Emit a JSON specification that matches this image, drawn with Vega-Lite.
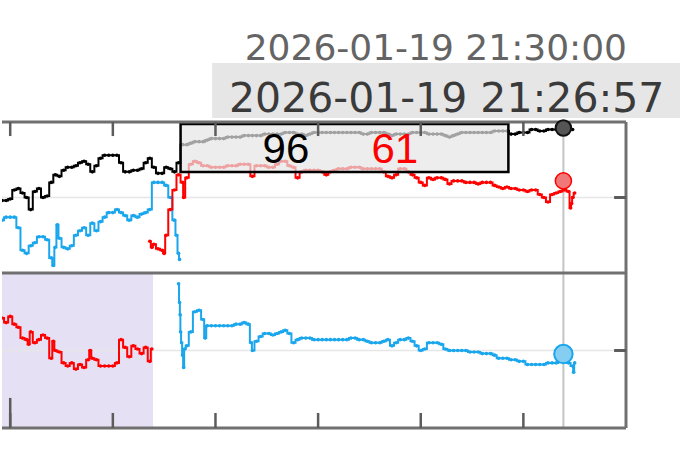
{
"$schema":"https://vega.github.io/schema/vega-lite/v6.json",
"padding":0,
"spacing":0,
"bounds":"flush",
"background":"#ffffff",
"config":{"view":{"stroke":null}},
"datasets":{
"ticks":[{"m":0},{"m":5},{"m":10},{"m":15},{"m":20},{"m":25}],
"tk":[{"m":-0.4,"v":48},{"m":-0.2,"v":48},{"m":0,"v":49},{"m":0.2,"v":55},{"m":0.4,"v":56},{"m":0.6,"v":53},{"m":0.8,"v":50},{"m":1.0,"v":42},{"m":1.2,"v":54},{"m":1.4,"v":56},{"m":1.6,"v":50},{"m":1.8,"v":51},{"m":2.0,"v":60},{"m":2.2,"v":65},{"m":2.4,"v":64},{"m":2.6,"v":68},{"m":2.8,"v":70},{"m":3.0,"v":70},{"m":3.2,"v":71},{"m":3.4,"v":73},{"m":3.6,"v":74},{"m":3.8,"v":72},{"m":4.0,"v":67},{"m":4.2,"v":71},{"m":4.4,"v":76},{"m":4.6,"v":78},{"m":4.8,"v":78},{"m":5.0,"v":78},{"m":5.2,"v":78},{"m":5.4,"v":73},{"m":5.6,"v":67},{"m":5.8,"v":67},{"m":6.0,"v":68},{"m":6.2,"v":68},{"m":6.4,"v":69},{"m":6.6,"v":73},{"m":6.8,"v":76},{"m":7.0,"v":70},{"m":7.2,"v":66},{"m":7.4,"v":66},{"m":7.6,"v":70},{"m":7.8,"v":69},{"m":8.0,"v":67},{"m":8.2,"v":73},{"m":8.4,"v":85},{"m":8.6,"v":85},{"m":8.8,"v":86},{"m":9.0,"v":87},{"m":9.2,"v":87},{"m":9.4,"v":87},{"m":9.6,"v":88},{"m":9.8,"v":89},{"m":10.0,"v":89},{"m":10.2,"v":89},{"m":10.4,"v":89},{"m":10.6,"v":90},{"m":10.8,"v":90},{"m":11.0,"v":90},{"m":11.2,"v":90},{"m":11.4,"v":91},{"m":11.6,"v":91},{"m":11.8,"v":91},{"m":12.0,"v":91},{"m":12.2,"v":91},{"m":12.4,"v":92},{"m":12.6,"v":92},{"m":12.8,"v":92},{"m":13.0,"v":92},{"m":13.2,"v":92},{"m":13.4,"v":93},{"m":13.6,"v":93},{"m":13.8,"v":93},{"m":14.0,"v":92},{"m":14.2,"v":92},{"m":14.4,"v":91},{"m":14.6,"v":92},{"m":14.8,"v":93},{"m":15.0,"v":93},{"m":15.2,"v":93},{"m":15.4,"v":93},{"m":15.6,"v":93},{"m":15.8,"v":93},{"m":16.0,"v":93},{"m":16.2,"v":93},{"m":16.4,"v":93},{"m":16.6,"v":93},{"m":16.8,"v":93},{"m":17.0,"v":93},{"m":17.2,"v":92},{"m":17.4,"v":92},{"m":17.6,"v":93},{"m":17.8,"v":93},{"m":18.0,"v":93},{"m":18.2,"v":93},{"m":18.4,"v":92},{"m":18.6,"v":91},{"m":18.8,"v":92},{"m":19.0,"v":92},{"m":19.2,"v":92},{"m":19.4,"v":92},{"m":19.6,"v":93},{"m":19.8,"v":93},{"m":20.0,"v":93},{"m":20.2,"v":93},{"m":20.4,"v":92},{"m":20.6,"v":92},{"m":20.8,"v":92},{"m":21.0,"v":92},{"m":21.2,"v":91},{"m":21.4,"v":90},{"m":21.6,"v":91},{"m":21.8,"v":92},{"m":22.0,"v":93},{"m":22.2,"v":93},{"m":22.4,"v":93},{"m":22.6,"v":93},{"m":22.8,"v":93},{"m":23.0,"v":93},{"m":23.2,"v":93},{"m":23.4,"v":93},{"m":23.6,"v":94},{"m":23.8,"v":94},{"m":24.0,"v":94},{"m":24.2,"v":94},{"m":24.4,"v":92},{"m":24.6,"v":92},{"m":24.8,"v":93},{"m":25.0,"v":93},{"m":25.2,"v":93},{"m":25.4,"v":95},{"m":25.6,"v":95},{"m":25.8,"v":94},{"m":26.0,"v":94},{"m":26.2,"v":95},{"m":26.4,"v":95},{"m":26.6,"v":95},{"m":26.8,"v":95},{"m":27.0,"v":96},{"m":27.2,"v":96},{"m":27.4,"v":95}],
"tb":[{"m":-0.4,"v":35},{"m":-0.2,"v":37},{"m":0,"v":37},{"m":0.2,"v":37},{"m":0.4,"v":30},{"m":0.6,"v":15},{"m":0.8,"v":13},{"m":1.0,"v":18},{"m":1.2,"v":20},{"m":1.4,"v":24},{"m":1.6,"v":24},{"m":1.8,"v":22},{"m":2.0,"v":10},{"m":2.1,"v":5},{"m":2.2,"v":17},{"m":2.3,"v":32},{"m":2.4,"v":23},{"m":2.6,"v":17},{"m":2.8,"v":16},{"m":3.0,"v":18},{"m":3.2,"v":25},{"m":3.4,"v":28},{"m":3.6,"v":30},{"m":3.8,"v":25},{"m":4.0,"v":33},{"m":4.2,"v":28},{"m":4.4,"v":34},{"m":4.6,"v":37},{"m":4.8,"v":40},{"m":5.0,"v":40},{"m":5.2,"v":42},{"m":5.4,"v":40},{"m":5.6,"v":38},{"m":5.8,"v":35},{"m":6.0,"v":38},{"m":6.2,"v":37},{"m":6.4,"v":39},{"m":6.6,"v":40},{"m":6.8,"v":42},{"m":7.0,"v":60},{"m":7.2,"v":60},{"m":7.4,"v":60},{"m":7.6,"v":58},{"m":7.8,"v":50},{"m":8.0,"v":35},{"m":8.1,"v":25},{"m":8.2,"v":13},{"m":8.25,"v":9}],
"tr":[{"m":6.8,"v":21},{"m":6.9,"v":17},{"m":7.0,"v":19},{"m":7.2,"v":16},{"m":7.4,"v":15},{"m":7.5,"v":13},{"m":7.6,"v":25},{"m":7.8,"v":42},{"m":8.0,"v":55},{"m":8.2,"v":65},{"m":8.4,"v":60},{"m":8.45,"v":50},{"m":8.6,"v":63},{"m":8.8,"v":72},{"m":9.0,"v":74},{"m":9.2,"v":73},{"m":9.4,"v":71},{"m":9.6,"v":71},{"m":9.8,"v":70},{"m":10.0,"v":70},{"m":10.2,"v":70},{"m":10.4,"v":70},{"m":10.6,"v":71},{"m":10.8,"v":71},{"m":11.0,"v":71},{"m":11.2,"v":72},{"m":11.4,"v":72},{"m":11.6,"v":72},{"m":11.8,"v":64},{"m":12.0,"v":71},{"m":12.2,"v":71},{"m":12.4,"v":71},{"m":12.6,"v":70},{"m":12.8,"v":70},{"m":13.0,"v":72},{"m":13.2,"v":74},{"m":13.4,"v":74},{"m":13.6,"v":71},{"m":13.8,"v":70},{"m":14.0,"v":63},{"m":14.2,"v":67},{"m":14.4,"v":68},{"m":14.6,"v":68},{"m":14.8,"v":68},{"m":15.0,"v":68},{"m":15.2,"v":67},{"m":15.4,"v":65},{"m":15.6,"v":67},{"m":15.8,"v":68},{"m":16.0,"v":69},{"m":16.2,"v":69},{"m":16.4,"v":69},{"m":16.6,"v":70},{"m":16.8,"v":70},{"m":17.0,"v":70},{"m":17.2,"v":69},{"m":17.4,"v":69},{"m":17.6,"v":69},{"m":17.8,"v":69},{"m":18.0,"v":69},{"m":18.2,"v":67},{"m":18.4,"v":64},{"m":18.6,"v":63},{"m":18.8,"v":65},{"m":19.0,"v":69},{"m":19.2,"v":69},{"m":19.4,"v":67},{"m":19.6,"v":65},{"m":19.8,"v":63},{"m":20.0,"v":60},{"m":20.2,"v":58},{"m":20.4,"v":63},{"m":20.6,"v":62},{"m":20.8,"v":63},{"m":21.0,"v":63},{"m":21.2,"v":62},{"m":21.4,"v":59},{"m":21.6,"v":61},{"m":21.8,"v":61},{"m":22.0,"v":61},{"m":22.2,"v":60},{"m":22.4,"v":60},{"m":22.6,"v":60},{"m":22.8,"v":59},{"m":23.0,"v":60},{"m":23.2,"v":60},{"m":23.4,"v":60},{"m":23.6,"v":58},{"m":23.8,"v":57},{"m":24.0,"v":56},{"m":24.2,"v":57},{"m":24.4,"v":56},{"m":24.6,"v":56},{"m":24.8,"v":55},{"m":25.0,"v":55},{"m":25.2,"v":54},{"m":25.4,"v":55},{"m":25.6,"v":55},{"m":25.8,"v":52},{"m":26.0,"v":50},{"m":26.2,"v":47},{"m":26.4,"v":52},{"m":26.6,"v":53},{"m":26.8,"v":54},{"m":27.0,"v":55},{"m":27.2,"v":54},{"m":27.3,"v":43},{"m":27.35,"v":46},{"m":27.4,"v":50},{"m":27.5,"v":53}],
"br":[{"m":-0.4,"v":71},{"m":-0.2,"v":68},{"m":0,"v":72},{"m":0.2,"v":67},{"m":0.4,"v":65},{"m":0.6,"v":58},{"m":0.8,"v":57},{"m":0.9,"v":54},{"m":1.0,"v":62},{"m":1.2,"v":55},{"m":1.4,"v":57},{"m":1.6,"v":60},{"m":1.8,"v":58},{"m":2.0,"v":45},{"m":2.1,"v":56},{"m":2.2,"v":50},{"m":2.4,"v":49},{"m":2.6,"v":42},{"m":2.8,"v":40},{"m":3.0,"v":42},{"m":3.2,"v":38},{"m":3.4,"v":41},{"m":3.6,"v":39},{"m":3.8,"v":44},{"m":3.9,"v":50},{"m":4.0,"v":45},{"m":4.2,"v":44},{"m":4.4,"v":40},{"m":4.6,"v":40},{"m":4.8,"v":40},{"m":5.0,"v":40},{"m":5.2,"v":42},{"m":5.4,"v":57},{"m":5.6,"v":52},{"m":5.8,"v":46},{"m":6.0,"v":53},{"m":6.2,"v":51},{"m":6.4,"v":48},{"m":6.6,"v":52},{"m":6.8,"v":43},{"m":6.9,"v":51}],
"bb":[{"m":8.2,"v":93},{"m":8.25,"v":81},{"m":8.28,"v":73},{"m":8.3,"v":62},{"m":8.35,"v":55},{"m":8.4,"v":47},{"m":8.45,"v":39},{"m":8.5,"v":51},{"m":8.6,"v":53},{"m":8.8,"v":62},{"m":9.0,"v":75},{"m":9.2,"v":76},{"m":9.4,"v":70},{"m":9.5,"v":58},{"m":9.6,"v":66},{"m":9.8,"v":66},{"m":10.0,"v":66},{"m":10.2,"v":66},{"m":10.4,"v":66},{"m":10.6,"v":66},{"m":10.8,"v":66},{"m":11.0,"v":67},{"m":11.2,"v":67},{"m":11.4,"v":68},{"m":11.6,"v":67},{"m":11.75,"v":55},{"m":11.8,"v":50},{"m":12.0,"v":56},{"m":12.2,"v":59},{"m":12.4,"v":61},{"m":12.6,"v":61},{"m":12.8,"v":60},{"m":13.0,"v":61},{"m":13.2,"v":62},{"m":13.4,"v":63},{"m":13.6,"v":61},{"m":13.8,"v":55},{"m":14.0,"v":57},{"m":14.2,"v":58},{"m":14.4,"v":58},{"m":14.6,"v":58},{"m":14.8,"v":57},{"m":15.0,"v":57},{"m":15.2,"v":57},{"m":15.4,"v":57},{"m":15.6,"v":57},{"m":15.8,"v":57},{"m":16.0,"v":57},{"m":16.2,"v":57},{"m":16.4,"v":57},{"m":16.6,"v":58},{"m":16.8,"v":58},{"m":17.0,"v":57},{"m":17.2,"v":57},{"m":17.4,"v":56},{"m":17.6,"v":55},{"m":17.8,"v":55},{"m":18.0,"v":55},{"m":18.2,"v":56},{"m":18.4,"v":57},{"m":18.6,"v":53},{"m":18.8,"v":55},{"m":19.0,"v":57},{"m":19.2,"v":57},{"m":19.4,"v":58},{"m":19.6,"v":56},{"m":19.8,"v":53},{"m":20.0,"v":50},{"m":20.2,"v":51},{"m":20.4,"v":55},{"m":20.6,"v":55},{"m":20.8,"v":55},{"m":21.0,"v":54},{"m":21.2,"v":51},{"m":21.4,"v":50},{"m":21.6,"v":50},{"m":21.8,"v":50},{"m":22.0,"v":50},{"m":22.2,"v":50},{"m":22.4,"v":49},{"m":22.6,"v":49},{"m":22.8,"v":49},{"m":23.0,"v":48},{"m":23.2,"v":48},{"m":23.4,"v":48},{"m":23.6,"v":47},{"m":23.8,"v":45},{"m":24.0,"v":45},{"m":24.2,"v":45},{"m":24.4,"v":44},{"m":24.6,"v":44},{"m":24.8,"v":43},{"m":25.0,"v":43},{"m":25.2,"v":41},{"m":25.4,"v":41},{"m":25.6,"v":41},{"m":25.8,"v":41},{"m":26.0,"v":41},{"m":26.2,"v":42},{"m":26.4,"v":42},{"m":26.6,"v":42},{"m":26.8,"v":43},{"m":27.0,"v":45},{"m":27.2,"v":42},{"m":27.4,"v":40},{"m":27.45,"v":36},{"m":27.5,"v":42}]
},
"vconcat":[
{"width":680,"height":122,
 "layer":[
  {"data":{"values":[{"x1":30.9,"x2":100,"y1":3.3,"y2":48.4}]},"mark":{"type":"rect","color":"#e6e6e6"},
   "encoding":{"x":{"field":"x1","type":"quantitative","scale":{"domain":[0,100],"nice":false,"zero":false},"axis":null},"x2":{"field":"x2"},"y":{"field":"y1","type":"quantitative","scale":{"domain":[0,100],"nice":false,"zero":false},"axis":null},"y2":{"field":"y2"}}},
  {"data":{"values":[{"x":63.8,"y":50.8,"t":"2026-01-19 21:30:00"}]},"mark":{"type":"text","font":"DejaVu Sans","fontSize":36,"color":"#646464","align":"center","baseline":"alphabetic"},
   "encoding":{"x":{"field":"x","type":"quantitative","scale":{"domain":[0,100],"nice":false,"zero":false},"axis":null},"y":{"field":"y","type":"quantitative","scale":{"domain":[0,100],"nice":false,"zero":false},"axis":null},"text":{"field":"t"}}},
  {"data":{"values":[{"x":65.4,"y":8.2,"t":"2026-01-19 21:26:57"}]},"mark":{"type":"text","font":"DejaVu Sans","fontSize":41,"color":"#3a3a3a","align":"center","baseline":"alphabetic"},
   "encoding":{"x":{"field":"x","type":"quantitative","scale":{"domain":[0,100],"nice":false,"zero":false},"axis":null},"y":{"field":"y","type":"quantitative","scale":{"domain":[0,100],"nice":false,"zero":false},"axis":null},"text":{"field":"t"}}}
 ]},
{"width":624,"height":151,
 "layer":[
  {"data":{"values":[{"v":50}]},"mark":{"type":"rule","color":"#e6e6e6","strokeWidth":1.5},
   "encoding":{"y":{"field":"v","type":"quantitative","scale":{"domain":[0,100],"nice":false,"zero":false},"axis":null}}},
  {"data":{"values":[{"m":26.95}]},"mark":{"type":"rule","color":"#c4c4c4","strokeWidth":2},
   "encoding":{"x":{"field":"m","type":"quantitative","scale":{"domain":[-0.4,30],"nice":false,"zero":false},"axis":null}}},
  {"data":{"name":"tk"},"mark":{"type":"line","interpolate":"step","color":"#000000","strokeWidth":2,"clip":true},
   "encoding":{"x":{"field":"m","type":"quantitative","scale":{"domain":[-0.4,30],"nice":false,"zero":false},"axis":null},"y":{"field":"v","type":"quantitative","scale":{"domain":[0,100],"nice":false,"zero":false},"axis":null}}},
  {"data":{"name":"tk"},"mark":{"type":"point","filled":true,"shape":"circle","size":13,"opacity":1,"color":"#000000","clip":true},
   "encoding":{"x":{"field":"m","type":"quantitative","scale":{"domain":[-0.4,30],"nice":false,"zero":false},"axis":null},"y":{"field":"v","type":"quantitative","scale":{"domain":[0,100],"nice":false,"zero":false},"axis":null}}},
  {"data":{"name":"tb"},"mark":{"type":"line","interpolate":"step","color":"#1aa6ec","strokeWidth":2,"clip":true},
   "encoding":{"x":{"field":"m","type":"quantitative","scale":{"domain":[-0.4,30],"nice":false,"zero":false},"axis":null},"y":{"field":"v","type":"quantitative","scale":{"domain":[0,100],"nice":false,"zero":false},"axis":null}}},
  {"data":{"name":"tb"},"mark":{"type":"point","filled":true,"shape":"circle","size":13,"opacity":1,"color":"#1aa6ec","clip":true},
   "encoding":{"x":{"field":"m","type":"quantitative","scale":{"domain":[-0.4,30],"nice":false,"zero":false},"axis":null},"y":{"field":"v","type":"quantitative","scale":{"domain":[0,100],"nice":false,"zero":false},"axis":null}}},
  {"data":{"name":"tr"},"mark":{"type":"line","interpolate":"step","color":"#ff0000","strokeWidth":2,"clip":true},
   "encoding":{"x":{"field":"m","type":"quantitative","scale":{"domain":[-0.4,30],"nice":false,"zero":false},"axis":null},"y":{"field":"v","type":"quantitative","scale":{"domain":[0,100],"nice":false,"zero":false},"axis":null}}},
  {"data":{"name":"tr"},"mark":{"type":"point","filled":true,"shape":"circle","size":13,"opacity":1,"color":"#ff0000","clip":true},
   "encoding":{"x":{"field":"m","type":"quantitative","scale":{"domain":[-0.4,30],"nice":false,"zero":false},"axis":null},"y":{"field":"v","type":"quantitative","scale":{"domain":[0,100],"nice":false,"zero":false},"axis":null}}},
  {"data":{"values":[{"m1":8.3,"m2":24.27,"v1":66.9,"v2":98.7}]},"mark":{"type":"rect","fill":"#e6e6e6","fillOpacity":0.7,"stroke":"#000000","strokeWidth":2.5},
   "encoding":{"x":{"field":"m1","type":"quantitative","scale":{"domain":[-0.4,30],"nice":false,"zero":false},"axis":null},"x2":{"field":"m2"},"y":{"field":"v1","type":"quantitative","scale":{"domain":[0,100],"nice":false,"zero":false},"axis":null},"y2":{"field":"v2"}}},
  {"data":{"values":[{"m":13.43,"v":72.8,"t":"96","c":"k"},{"m":18.74,"v":72.8,"t":"61","c":"r"}]},"mark":{"type":"text","font":"Liberation Sans","fontSize":42,"align":"center","baseline":"alphabetic"},
   "encoding":{"x":{"field":"m","type":"quantitative","scale":{"domain":[-0.4,30],"nice":false,"zero":false},"axis":null},"y":{"field":"v","type":"quantitative","scale":{"domain":[0,100],"nice":false,"zero":false},"axis":null},"text":{"field":"t"},"color":{"field":"c","type":"nominal","scale":{"domain":["k","r"],"range":["#000000","#ff0000"]},"legend":null}}},
  {"data":{"values":[{"v":100}]},"mark":{"type":"rule","color":"#707070","strokeWidth":3},
   "encoding":{"y":{"field":"v","type":"quantitative","scale":{"domain":[0,100],"nice":false,"zero":false},"axis":null}}},
  {"data":{"values":[{"m":30}]},"mark":{"type":"rule","color":"#707070","strokeWidth":3},
   "encoding":{"x":{"field":"m","type":"quantitative","scale":{"domain":[-0.4,30],"nice":false,"zero":false},"axis":null}}},
  {"data":{"name":"ticks"},"mark":{"type":"rule","color":"#5c5c5c","strokeWidth":2.5},
   "encoding":{"x":{"field":"m","type":"quantitative","scale":{"domain":[-0.4,30],"nice":false,"zero":false},"axis":null},"y":{"datum":100,"type":"quantitative","scale":{"domain":[0,100],"nice":false,"zero":false},"axis":null},"y2":{"datum":90.7}}},
  {"data":{"values":[{"m1":29.42,"m2":30,"v":50}]},"mark":{"type":"rule","color":"#5c5c5c","strokeWidth":3},
   "encoding":{"x":{"field":"m1","type":"quantitative","scale":{"domain":[-0.4,30],"nice":false,"zero":false},"axis":null},"x2":{"field":"m2"},"y":{"field":"v","type":"quantitative","scale":{"domain":[0,100],"nice":false,"zero":false},"axis":null}}},
  {"data":{"values":[{"m":26.95,"v":96}]},"mark":{"type":"point","filled":true,"shape":"circle","size":240,"fill":"#555555","fillOpacity":1,"stroke":"#111111","strokeWidth":2,"strokeOpacity":1},
   "encoding":{"x":{"field":"m","type":"quantitative","scale":{"domain":[-0.4,30],"nice":false,"zero":false},"axis":null},"y":{"field":"v","type":"quantitative","scale":{"domain":[0,100],"nice":false,"zero":false},"axis":null}}},
  {"data":{"values":[{"m":26.95,"v":61}]},"mark":{"type":"point","filled":true,"shape":"circle","size":260,"fill":"#f07878","fillOpacity":1,"stroke":"#ff0000","strokeWidth":1.5,"strokeOpacity":1},
   "encoding":{"x":{"field":"m","type":"quantitative","scale":{"domain":[-0.4,30],"nice":false,"zero":false},"axis":null},"y":{"field":"v","type":"quantitative","scale":{"domain":[0,100],"nice":false,"zero":false},"axis":null}}}
 ]},
{"width":624,"height":155,
 "layer":[
  {"data":{"values":[{"m1":-0.4,"m2":6.96,"v1":0,"v2":100}]},"mark":{"type":"rect","color":"#e6e0f5"},
   "encoding":{"x":{"field":"m1","type":"quantitative","scale":{"domain":[-0.4,30],"nice":false,"zero":false},"axis":null},"x2":{"field":"m2"},"y":{"field":"v1","type":"quantitative","scale":{"domain":[0,100],"nice":false,"zero":false},"axis":null},"y2":{"field":"v2"}}},
  {"data":{"values":[{"v":50}]},"mark":{"type":"rule","color":"#e6e6e6","strokeWidth":1.5},
   "encoding":{"y":{"field":"v","type":"quantitative","scale":{"domain":[0,100],"nice":false,"zero":false},"axis":null}}},
  {"data":{"values":[{"m":26.95}]},"mark":{"type":"rule","color":"#c4c4c4","strokeWidth":2},
   "encoding":{"x":{"field":"m","type":"quantitative","scale":{"domain":[-0.4,30],"nice":false,"zero":false},"axis":null}}},
  {"data":{"name":"br"},"mark":{"type":"line","interpolate":"step","color":"#ff0000","strokeWidth":2,"clip":true},
   "encoding":{"x":{"field":"m","type":"quantitative","scale":{"domain":[-0.4,30],"nice":false,"zero":false},"axis":null},"y":{"field":"v","type":"quantitative","scale":{"domain":[0,100],"nice":false,"zero":false},"axis":null}}},
  {"data":{"name":"br"},"mark":{"type":"point","filled":true,"shape":"circle","size":13,"opacity":1,"color":"#ff0000","clip":true},
   "encoding":{"x":{"field":"m","type":"quantitative","scale":{"domain":[-0.4,30],"nice":false,"zero":false},"axis":null},"y":{"field":"v","type":"quantitative","scale":{"domain":[0,100],"nice":false,"zero":false},"axis":null}}},
  {"data":{"name":"bb"},"mark":{"type":"line","interpolate":"step","color":"#1aa6ec","strokeWidth":2,"clip":true},
   "encoding":{"x":{"field":"m","type":"quantitative","scale":{"domain":[-0.4,30],"nice":false,"zero":false},"axis":null},"y":{"field":"v","type":"quantitative","scale":{"domain":[0,100],"nice":false,"zero":false},"axis":null}}},
  {"data":{"name":"bb"},"mark":{"type":"point","filled":true,"shape":"circle","size":13,"opacity":1,"color":"#1aa6ec","clip":true},
   "encoding":{"x":{"field":"m","type":"quantitative","scale":{"domain":[-0.4,30],"nice":false,"zero":false},"axis":null},"y":{"field":"v","type":"quantitative","scale":{"domain":[0,100],"nice":false,"zero":false},"axis":null}}},
  {"data":{"values":[{"v":100},{"v":0}]},"mark":{"type":"rule","color":"#707070","strokeWidth":3},
   "encoding":{"y":{"field":"v","type":"quantitative","scale":{"domain":[0,100],"nice":false,"zero":false},"axis":null}}},
  {"data":{"values":[{"m":30}]},"mark":{"type":"rule","color":"#707070","strokeWidth":3},
   "encoding":{"x":{"field":"m","type":"quantitative","scale":{"domain":[-0.4,30],"nice":false,"zero":false},"axis":null}}},
  {"data":{"name":"ticks"},"mark":{"type":"rule","color":"#5c5c5c","strokeWidth":2.5},
   "encoding":{"x":{"field":"m","type":"quantitative","scale":{"domain":[-0.4,30],"nice":false,"zero":false},"axis":null},"y":{"datum":0,"type":"quantitative","scale":{"domain":[0,100],"nice":false,"zero":false},"axis":null},"y2":{"datum":9.7}}},
  {"data":{"values":[{"m":0,"v1":0,"v2":19.4}]},"mark":{"type":"rule","color":"#5c5c5c","strokeWidth":2.5},
   "encoding":{"x":{"field":"m","type":"quantitative","scale":{"domain":[-0.4,30],"nice":false,"zero":false},"axis":null},"y":{"field":"v1","type":"quantitative","scale":{"domain":[0,100],"nice":false,"zero":false},"axis":null},"y2":{"field":"v2"}}},
  {"data":{"values":[{"m1":29.42,"m2":30,"v":50}]},"mark":{"type":"rule","color":"#5c5c5c","strokeWidth":3},
   "encoding":{"x":{"field":"m1","type":"quantitative","scale":{"domain":[-0.4,30],"nice":false,"zero":false},"axis":null},"x2":{"field":"m2"},"y":{"field":"v","type":"quantitative","scale":{"domain":[0,100],"nice":false,"zero":false},"axis":null}}},
  {"data":{"values":[{"m":26.95,"v":47.7}]},"mark":{"type":"point","filled":true,"shape":"circle","size":340,"fill":"#86cdf2","fillOpacity":1,"stroke":"#1aa6ec","strokeWidth":2,"strokeOpacity":1},
   "encoding":{"x":{"field":"m","type":"quantitative","scale":{"domain":[-0.4,30],"nice":false,"zero":false},"axis":null},"y":{"field":"v","type":"quantitative","scale":{"domain":[0,100],"nice":false,"zero":false},"axis":null}}}
 ]}
]
}
